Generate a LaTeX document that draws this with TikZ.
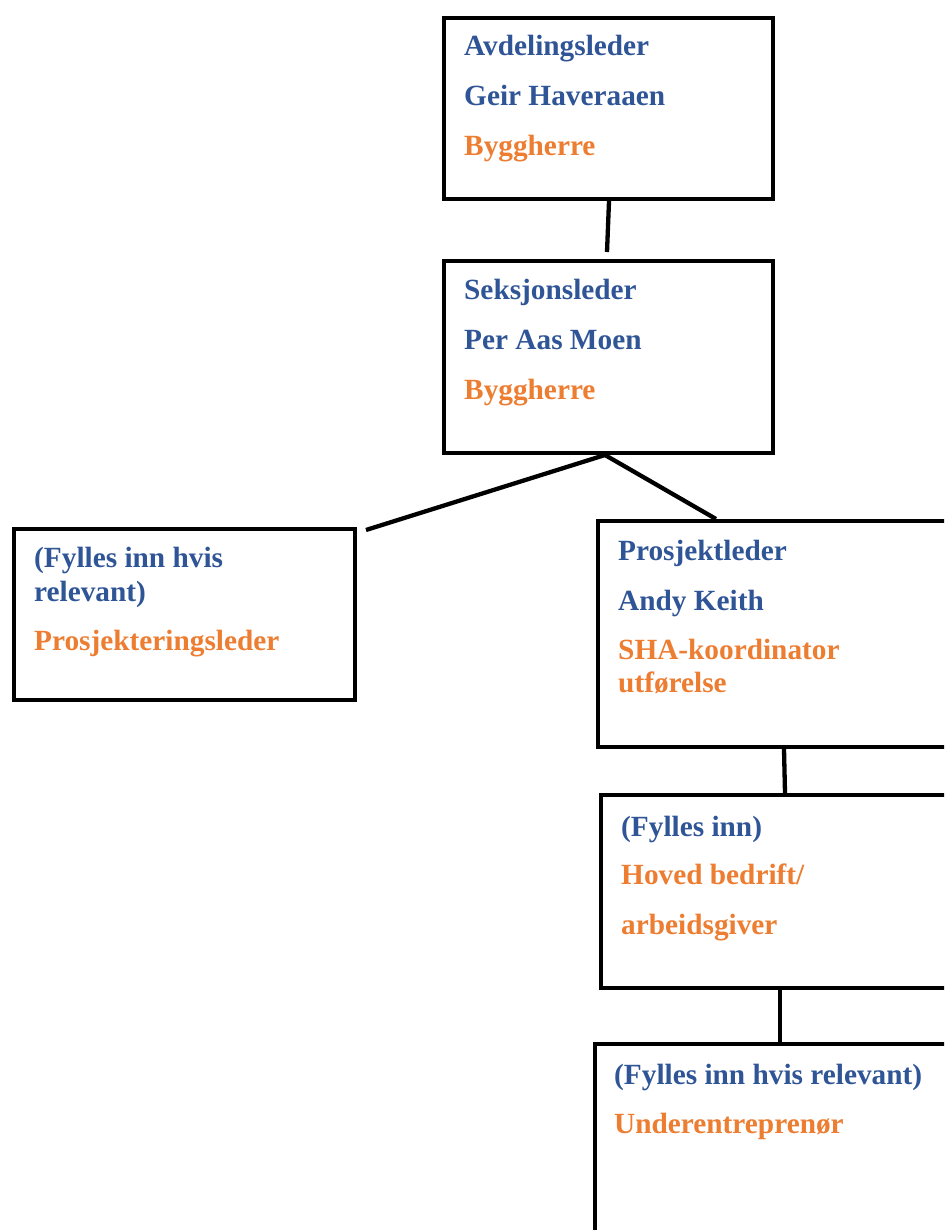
\documentclass[tikz,border=0pt]{standalone}
\usepackage{fontspec}
\setmainfont{Liberation Serif}
\usetikzlibrary{calc}
\definecolor{tblue}{RGB}{47,85,151}
\definecolor{torange}{RGB}{237,125,49}
\begin{document}
\begin{tikzpicture}[x=1pt,y=-1pt,
  box/.style={draw=black, line width=4pt, inner sep=0pt, anchor=north west, rectangle},
  conn/.style={draw=black, line width=4.3pt},
  lbl/.style={anchor=base west, inner sep=0pt, font=\fontsize{29.3}{34}\selectfont\bfseries},
  bl/.style={lbl, text=tblue},
  og/.style={lbl, text=torange}]
\fill[white] (0,0) rectangle (944,1230);
\clip (0,0) rectangle (944,1230);
% boxes
\node[box, minimum width=329pt, minimum height=181pt] (b1) at (442,16) {};
\node[box, minimum width=329pt, minimum height=192pt] (b2) at (442,259) {};
\node[box, minimum width=341pt, minimum height=171pt] (b3) at (12,527) {};
\node[box, minimum width=366pt, minimum height=226pt] (b4) at (596,519) {};
\node[box, minimum width=363pt, minimum height=193pt] (b5) at (599,793) {};
\node[box, minimum width=369pt, minimum height=208pt] (b6) at (593,1042) {};
% connectors
\draw[conn] ($(b1.south west)+(167,0)$) -- ($(b2.north west)+(165,-7)$);
\draw[conn] ($(b2.south west)+(163,0)$) -- ($(b3.north east)+(9,3)$);
\draw[conn] ($(b2.south west)+(163,0)$) -- ($(b4.north west)+(120,0)$);
\draw[conn] ($(b4.south west)+(188,0)$) -- ($(b5.north west)+(186,0)$);
\draw[conn] ($(b5.south west)+(181,0)$) -- ($(b6.north west)+(187,0)$);
% texts
\node[bl] (t11) at (464,56) {Avdelingsleder};
\node[bl] (t12) at (464,106) {Geir Haveraaen};
\node[og] (t13) at (464,156) {Byggherre};
\node[bl] (t21) at (464,299) {Seksjonsleder};
\node[bl] (t22) at (464,349) {Per Aas Moen};
\node[og] (t23) at (464,399) {Byggherre};
\node[bl] (t31) at (34,567) {(Fylles inn hvis};
\node[bl] (t32) at (34,601) {relevant)};
\node[og] (t33) at (34,650) {Prosjekteringsleder};
\node[bl] (t41) at (618,560) {Prosjektleder};
\node[bl] (t42) at (618,610) {Andy Keith};
\node[og] (t43) at (618,659) {SHA-koordinator};
\node[og] (t44) at (618,692) {utførelse};
\node[bl] (t51) at (621,836) {(Fylles inn)};
\node[og] (t52) at (621,884) {Hoved bedrift/};
\node[og] (t53) at (621,934) {arbeidsgiver};
\node[bl] (t61) at (614,1084) {(Fylles inn hvis relevant)};
\node[og] (t62) at (614,1133) {Underentreprenør};
\end{tikzpicture}
\end{document}
